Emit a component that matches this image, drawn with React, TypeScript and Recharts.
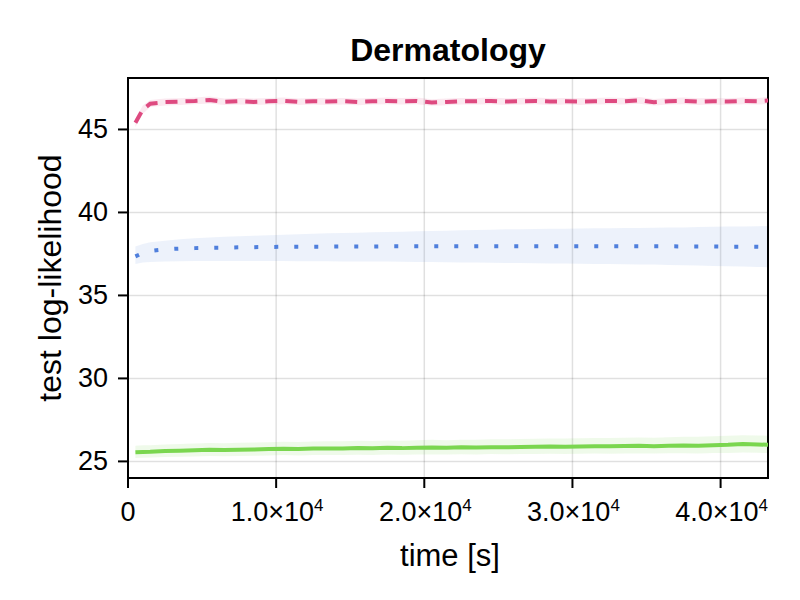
import React from "react";
import {
  ComposedChart,
  Line,
  Area,
  XAxis,
  YAxis,
  CartesianGrid,
  ReferenceArea,
} from "recharts";

const times = [
  500, 1000, 1500, 2500, 3500, 4500, 5500, 6500, 7500,
  8500, 9500, 10500, 11500, 12500, 13500, 14500, 15500, 16500,
  17500, 18500, 19500, 20500, 21500, 22500, 23500, 24500, 25500,
  26500, 27500, 28500, 29500, 30500, 31500, 32500, 33500, 34500,
  35500, 36500, 37500, 38500, 39500, 40500, 41500, 42500, 43200,
];

const pinkMean = [
  45.40, 46.20, 46.55, 46.65, 46.68, 46.72, 46.78, 46.66, 46.70,
  46.66, 46.70, 46.72, 46.66, 46.70, 46.68, 46.70, 46.66, 46.70,
  46.72, 46.70, 46.72, 46.62, 46.66, 46.70, 46.70, 46.72, 46.68,
  46.70, 46.72, 46.68, 46.70, 46.68, 46.70, 46.72, 46.70, 46.76,
  46.64, 46.70, 46.72, 46.68, 46.70, 46.68, 46.72, 46.70, 46.74,
];
const pinkLo = [
  45.15, 45.95, 46.35, 46.45, 46.48, 46.52, 46.56, 46.48, 46.50,
  46.47, 46.50, 46.52, 46.47, 46.50, 46.48, 46.50, 46.46, 46.50,
  46.52, 46.50, 46.52, 46.43, 46.46, 46.50, 46.50, 46.52, 46.48,
  46.50, 46.52, 46.48, 46.50, 46.48, 46.50, 46.52, 46.50, 46.55,
  46.45, 46.50, 46.52, 46.48, 46.50, 46.48, 46.52, 46.50, 46.53,
];
const pinkHi = [
  45.65, 46.45, 46.78, 46.86, 46.88, 46.92, 46.98, 46.86, 46.90,
  46.86, 46.90, 46.92, 46.86, 46.90, 46.88, 46.90, 46.86, 46.90,
  46.92, 46.90, 46.92, 46.82, 46.86, 46.90, 46.90, 46.92, 46.88,
  46.90, 46.92, 46.88, 46.90, 46.88, 46.90, 46.92, 46.90, 46.96,
  46.84, 46.90, 46.92, 46.88, 46.90, 46.88, 46.92, 46.90, 46.95,
];

const blueMean = [
  37.35, 37.55, 37.68, 37.78, 37.82, 37.85, 37.87, 37.88, 37.90,
  37.91, 37.92, 37.93, 37.93, 37.94, 37.94, 37.95, 37.95, 37.95,
  37.96, 37.96, 37.96, 37.96, 37.96, 37.96, 37.97, 37.97, 37.97,
  37.97, 37.97, 37.97, 37.97, 37.97, 37.97, 37.96, 37.96, 37.96,
  37.96, 37.96, 37.95, 37.95, 37.95, 37.94, 37.94, 37.93, 37.92,
];
const blueLo = [
  36.90, 36.98, 37.02, 37.05, 37.06, 37.07, 37.07, 37.07, 37.07,
  37.07, 37.07, 37.07, 37.06, 37.06, 37.06, 37.05, 37.05, 37.04,
  37.04, 37.03, 37.02, 37.01, 37.00, 36.99, 36.98, 36.97, 36.96,
  36.95, 36.94, 36.93, 36.92, 36.91, 36.90, 36.89, 36.88, 36.87,
  36.86, 36.84, 36.82, 36.80, 36.78, 36.76, 36.74, 36.72, 36.70,
];
const blueHi = [
  37.95, 38.10, 38.20, 38.30, 38.38, 38.44, 38.49, 38.53, 38.57,
  38.60, 38.63, 38.66, 38.69, 38.72, 38.74, 38.76, 38.78, 38.80,
  38.82, 38.84, 38.86, 38.88, 38.90, 38.92, 38.94, 38.96, 38.98,
  38.99, 39.00, 39.01, 39.02, 39.03, 39.04, 39.05, 39.06, 39.07,
  39.08, 39.09, 39.10, 39.12, 39.14, 39.15, 39.16, 39.17, 39.18,
];

const greenMean = [
  25.55, 25.57, 25.58, 25.62, 25.64, 25.67, 25.70, 25.68, 25.70,
  25.72, 25.74, 25.76, 25.74, 25.77, 25.78, 25.77, 25.80, 25.79,
  25.82, 25.80, 25.83, 25.84, 25.82, 25.85, 25.84, 25.86, 25.85,
  25.87, 25.88, 25.90, 25.89, 25.90, 25.92, 25.91, 25.93, 25.94,
  25.92, 25.95, 25.96, 25.95, 25.98, 26.00, 26.05, 26.02, 26.00,
];
const greenLo = [
  25.20, 25.22, 25.23, 25.26, 25.28, 25.30, 25.33, 25.31, 25.33,
  25.34, 25.36, 25.38, 25.36, 25.38, 25.39, 25.38, 25.40, 25.39,
  25.41, 25.40, 25.42, 25.42, 25.41, 25.43, 25.42, 25.44, 25.43,
  25.44, 25.45, 25.46, 25.45, 25.46, 25.47, 25.46, 25.47, 25.48,
  25.47, 25.49, 25.49, 25.48, 25.50, 25.51, 25.53, 25.52, 25.50,
];
const greenHi = [
  25.95, 25.97, 25.98, 26.02, 26.05, 26.08, 26.11, 26.10, 26.12,
  26.14, 26.16, 26.18, 26.17, 26.20, 26.21, 26.21, 26.24, 26.23,
  26.26, 26.25, 26.28, 26.30, 26.28, 26.31, 26.31, 26.33, 26.33,
  26.35, 26.36, 26.38, 26.38, 26.39, 26.41, 26.41, 26.43, 26.44,
  26.43, 26.46, 26.48, 26.48, 26.51, 26.54, 26.58, 26.56, 26.55,
];

const xTicks = [0, 10000, 20000, 30000, 40000];
const yTicks = [25, 30, 35, 40, 45];
const xDomain = [0, 43200];
const yDomain = [24, 48.1];

const PINK = "#de4a80";
const BLUE = "#4f7fdc";
const GREEN = "#7ad64f";
const FONT = "'Liberation Sans', Arial, Helvetica, sans-serif";

const data = times.map((t, i) => ({
  t,
  pm: pinkMean[i],
  pb: [pinkLo[i], pinkHi[i]],
  bm: blueMean[i],
  bb: [blueLo[i], blueHi[i]],
  gm: greenMean[i],
  gb: [greenLo[i], greenHi[i]],
}));

const XTick = (props: any) => {
  const { x, y, payload } = props;
  const v = payload.value as number;
  if (v === 0) {
    return (
      <text x={x} y={y + 31} textAnchor="middle" fontSize={27} fontFamily={FONT} fill="#000">
        0
      </text>
    );
  }
  const exp = Math.floor(Math.log10(v));
  const mant = (v / Math.pow(10, exp)).toFixed(1);
  return (
    <text x={x + 1} y={y + 31} textAnchor="middle" fontSize={27} fontFamily={FONT} fill="#000">
      <tspan>{mant}×10</tspan>
      <tspan fontSize={17} dy={-10}>{exp}</tspan>
    </text>
  );
};

const YTick = (props: any) => {
  const { x, y, payload } = props;
  return (
    <text x={x} y={y} textAnchor="end" dominantBaseline="central" fontSize={27} fontFamily={FONT} fill="#000">
      {payload.value}
    </text>
  );
};

export default function App() {
  return (
    <div style={{ position: "absolute", left: 0, top: 0, width: 800, height: 600, background: "#fff" }}>
      <ComposedChart
        width={800}
        height={600}
        data={data}
        margin={{ top: 78, right: 32, bottom: 62, left: 68 }}
      >
        <CartesianGrid stroke="#000" strokeOpacity={0.12} strokeWidth={1.5} />
        <XAxis
          type="number"
          dataKey="t"
          domain={xDomain}
          ticks={xTicks}
          allowDataOverflow
          height={60}
          tickSize={10}
          tickMargin={2}
          axisLine={false}
          tickLine={{ stroke: "#000", strokeWidth: 2 }}
          tick={<XTick />}
          interval={0}
        />
        <YAxis
          type="number"
          domain={yDomain}
          ticks={yTicks}
          allowDataOverflow
          width={60}
          tickSize={10}
          tickMargin={10}
          axisLine={false}
          tickLine={{ stroke: "#000", strokeWidth: 2 }}
          tick={<YTick />}
          interval={0}
        />
        <Area dataKey="pb" stroke="none" fill={PINK} fillOpacity={0.12} isAnimationActive={false} activeDot={false} />
        <Area dataKey="bb" stroke="none" fill={BLUE} fillOpacity={0.1} isAnimationActive={false} activeDot={false} />
        <Area dataKey="gb" stroke="none" fill={GREEN} fillOpacity={0.12} isAnimationActive={false} activeDot={false} />
        <Line dataKey="gm" stroke={GREEN} strokeWidth={4} dot={false} isAnimationActive={false} activeDot={false} />
        <Line dataKey="bm" stroke={BLUE} strokeWidth={4} strokeDasharray="4 16" dot={false} isAnimationActive={false} activeDot={false} />
        <Line dataKey="pm" stroke={PINK} strokeWidth={4} strokeDasharray="12 8" dot={false} isAnimationActive={false} activeDot={false} />
        <ReferenceArea
          x1={xDomain[0]}
          x2={xDomain[1]}
          y1={yDomain[0]}
          y2={yDomain[1]}
          fill="none"
          stroke="#000"
          strokeWidth={2}
          ifOverflow="visible"
        />
        <text x={448} y={61} textAnchor="middle" fontSize={32} fontWeight="bold" fontFamily={FONT} fill="#000">
          Dermatology
        </text>
        <text
          x={50}
          y={278}
          transform="rotate(-90 50 278)"
          textAnchor="middle"
          dominantBaseline="central"
          fontSize={32}
          fontFamily={FONT}
          fill="#000"
        >
          test log-likelihood
        </text>
        <text x={450} y={566} textAnchor="middle" fontSize={31} fontFamily={FONT} fill="#000">
          time [s]
        </text>
      </ComposedChart>
    </div>
  );
}
